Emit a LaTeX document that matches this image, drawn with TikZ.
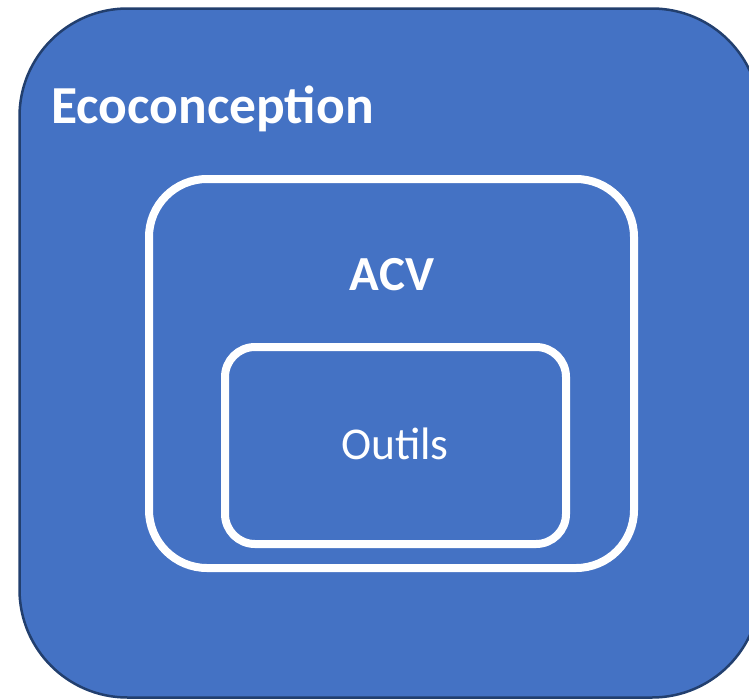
\documentclass[tikz,border=0pt]{standalone}
\usepackage{fontspec}
\setmainfont{Carlito}
\definecolor{fillblue}{HTML}{4472C4}
\definecolor{edgenavy}{HTML}{223F6E}
\begin{document}
\begin{tikzpicture}[x=1pt,y=-1pt,
  frame/.style={draw=white, line width=8pt, rectangle, inner sep=0pt},
  lbl/.style={text=white, inner sep=0pt, anchor=base}]
\useasboundingbox (0,0) rectangle (749,699);
\clip (0,0) rectangle (749,699);
% outer panel (runs past the right edge)
\node[draw=edgenavy, fill=fillblue, line width=2.5pt, rectangle, inner sep=0pt,
      rounded corners=108pt, minimum width=740.5pt, minimum height=689pt] (eco) at (389.75,353) {};
% nested frames
\node[frame, rounded corners=58pt, minimum width=485pt, minimum height=389pt] (acv) at (391.5,373.5) {};
\node[frame, rounded corners=30pt, minimum width=341pt, minimum height=197pt] (outils) at (395.5,445.5) {};
% labels
\node[lbl, anchor=base west, font=\fontsize{53.5}{62}\selectfont\bfseries] (ecotxt) at (51,123) {Ecoconception};
\node[lbl, font=\fontsize{49}{58}\selectfont\bfseries] (acvtxt) at (392,290) {ACV};
\node[lbl, font=\fontsize{45.5}{54}\selectfont] (outtxt) at (395,459) {Outils};
\end{tikzpicture}
\end{document}
